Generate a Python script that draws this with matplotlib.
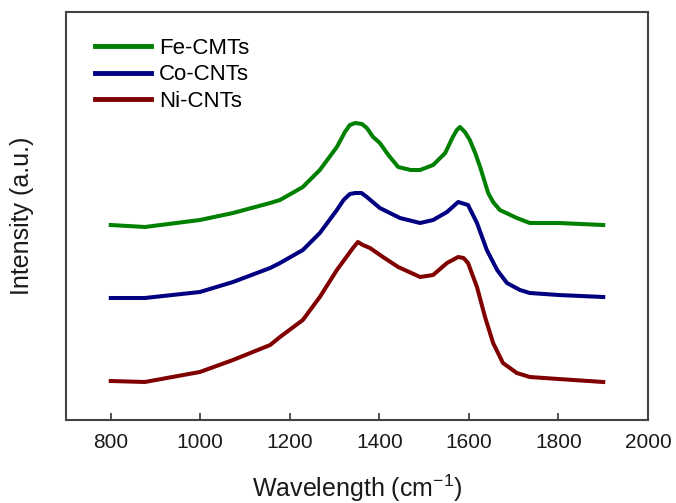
import matplotlib
matplotlib.use("Agg")
import matplotlib.pyplot as plt

plt.rcParams['font.family'] = ['Liberation Sans', 'DejaVu Sans']
plt.rcParams['mathtext.default'] = 'regular'

# Wavenumber (cm^-1) and intensity (a.u.)
fe_x = [800, 876, 999, 1073, 1156, 1178, 1229, 1267, 1305, 1323, 1334, 1346, 1361, 1372,
        1386, 1401, 1420, 1442, 1470, 1491, 1520, 1547, 1564, 1573, 1580, 1591, 1602,
        1614, 1625, 1643, 1654, 1669, 1707, 1736, 1800, 1900]
fe_y = [195, 193, 200, 207, 217, 220, 233, 250, 273, 288, 295, 297, 296, 292,
        283, 277, 265, 253, 250, 250, 255, 267, 283, 290, 293, 288, 280,
        267, 253, 227, 218, 210, 202, 197, 197, 195]

co_x = [800, 876, 999, 1073, 1156, 1178, 1229, 1267, 1305, 1320, 1334, 1346, 1360, 1372,
        1401, 1446, 1491, 1520, 1551, 1576, 1598, 1618, 1640, 1663, 1685, 1714, 1736,
        1800, 1900]
co_y = [122, 122, 128, 138, 152, 157, 170, 187, 210, 220, 226, 227, 227, 223,
        212, 202, 197, 200, 208, 218, 215, 197, 170, 150, 137, 130, 127,
        125, 123]

ni_x = [800, 876, 999, 1073, 1156, 1178, 1229, 1267, 1305, 1341, 1352, 1363, 1379,
        1408, 1442, 1491, 1520, 1551, 1576, 1588, 1598, 1618, 1636, 1654, 1676, 1707,
        1736, 1800, 1900]
ni_y = [39, 38, 48, 60, 75, 83, 100, 123, 150, 172, 178, 175, 172,
        163, 153, 143, 145, 157, 163, 162, 157, 133, 103, 77, 57, 47,
        43, 41, 38]

labels = ['Fe-CMTs', 'Co-CNTs', 'Ni-CNTs']
colors = ['#008000', '#000080', '#800000']
xticks = [800, 1000, 1200, 1400, 1600, 1800, 2000]

fig = plt.figure(figsize=(6.76, 5.03), dpi=100)
ax = fig.add_axes([66/676, 1-420/503, (648-66)/676, (420-12)/503])

for xs, ys, lab, c in zip([fe_x, co_x, ni_x], [fe_y, co_y, ni_y], labels, colors):
    ax.plot(xs, ys, color=c, lw=2.9, label=lab, solid_joinstyle='round')

ax.set_xlim(700, 2000)
ax.set_ylim(0, 408)
ax.set_xticks(xticks)
ax.set_xticklabels([str(t) for t in xticks], fontsize=15, color='#1a1a1a')
ax.set_yticks([])
ax.tick_params(axis='x', direction='in', length=5, width=1.2, color='#333333', pad=9)
for s in ax.spines.values():
    s.set_color('#444444')
    s.set_linewidth(1.5)

ax.set_xlabel('Wavelength (cm$^{-1}$)', fontsize=18, color='#1a1a1a', labelpad=15)
ax.set_ylabel('Intensity (a.u.)', fontsize=18, color='#1a1a1a', labelpad=23)

leg = ax.legend(loc='upper left', frameon=False, fontsize=16, handlelength=2.5,
                handletextpad=0.36, labelspacing=0.26, borderaxespad=0.0, borderpad=0.0,
                bbox_to_anchor=(0.05, 0.937))
for line in leg.get_lines():
    line.set_linewidth(3.5)

fig.savefig('out.png', dpi=100)
